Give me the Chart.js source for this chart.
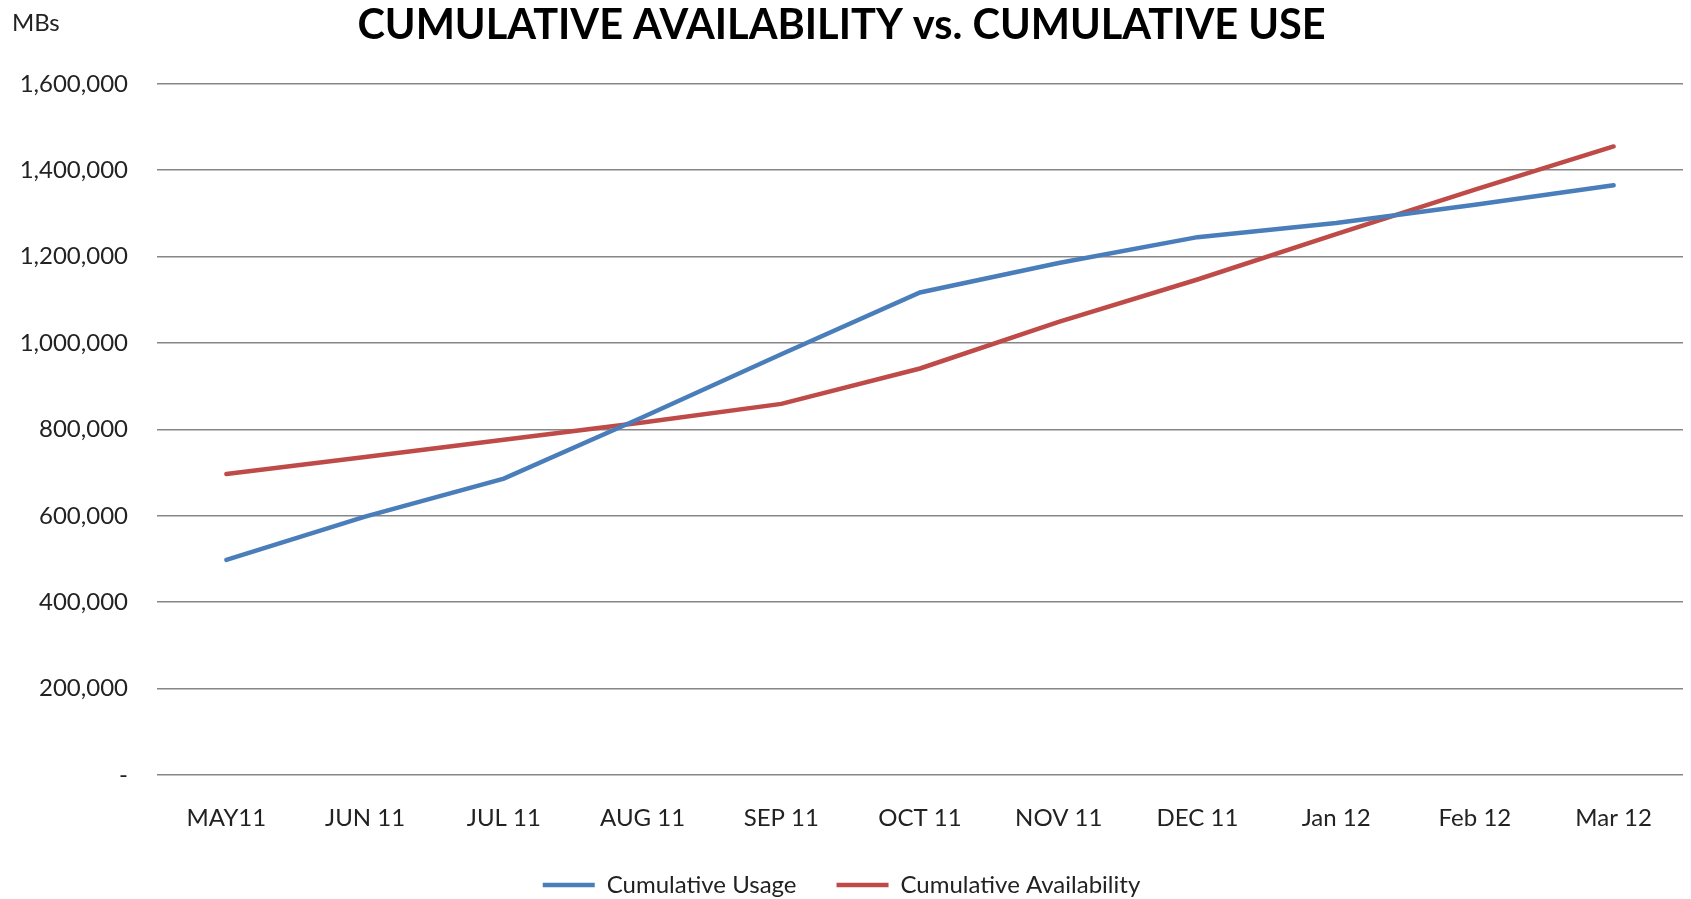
<!DOCTYPE html>
<html>
<head>
<meta charset="utf-8">
<title>Cumulative Availability vs. Cumulative Use</title>
<script src="https://cdn.jsdelivr.net/npm/chart.js@4.4.1/dist/chart.umd.min.js"></script>
<style>
    html, body { margin: 0; padding: 0; background: #fff; }
    #wrap { width: 1691px; height: 899px; position: relative; }
</style>
</head>
<body>
<div id="wrap"><canvas id="usageChart" width="1691" height="899"></canvas></div>
<script>
// Data
const months = ['MAY11', 'JUN 11', 'JUL 11', 'AUG 11', 'SEP 11', 'OCT 11', 'NOV 11', 'DEC 11', 'Jan 12', 'Feb 12', 'Mar 12'];
const cumulativeUsage = [498000, 598000, 686000, 828000, 974000, 1117000, 1185000, 1245000, 1278000, 1320000, 1365000];
const cumulativeAvailability = [697000, 736000, 776000, 816000, 859000, 941000, 1049000, 1147000, 1252000, 1355000, 1455000];
const yTicks = [0, 200000, 400000, 600000, 800000, 1000000, 1200000, 1400000, 1600000];

const FONT = 'Lato, "Open Sans", sans-serif';
const TEXT = '#222';

// "MBs" unit label in the top-left corner
const unitLabel = {
    id: 'unitLabel',
    afterDraw(chart) {
        const c = chart.ctx;
        c.save();
        c.font = '24px ' + FONT;
        c.fillStyle = TEXT;
        c.textBaseline = 'middle';
        c.textAlign = 'left';
        c.fillText('MBs', 12, 23);
        c.restore();
    }
};

const ctx = document.getElementById('usageChart').getContext('2d');
const chart = new Chart(ctx, {
    type: 'line',
    data: {
        labels: months,
        datasets: [{
            label: 'Cumulative Usage',
            data: cumulativeUsage,
            borderColor: '#4A7EBB',
            backgroundColor: '#4A7EBB',
            borderWidth: 4.5,
            borderCapStyle: 'round',
            pointRadius: 0,
            tension: 0
        }, {
            label: 'Cumulative Availability',
            data: cumulativeAvailability,
            borderColor: '#BE4B48',
            backgroundColor: '#BE4B48',
            borderWidth: 4.5,
            borderCapStyle: 'round',
            pointRadius: 0,
            tension: 0
        }]
    },
    options: {
        responsive: false,
        animation: false,
        layout: { padding: { left: 0, right: 8, top: 0, bottom: 0 } },
        plugins: {
            title: {
                display: true,
                text: 'CUMULATIVE AVAILABILITY vs. CUMULATIVE USE',
                color: '#000',
                font: { family: FONT, size: 41.5, weight: 'bold', lineHeight: 1.2 },
                padding: { top: 1, bottom: 33 }
            },
            legend: {
                position: 'bottom',
                maxHeight: 66,
                labels: {
                    color: TEXT,
                    font: { family: FONT, size: 24 },
                    usePointStyle: true,
                    pointStyle: 'line',
                    pointStyleWidth: 52,
                    padding: 40
                }
            },
            tooltip: { enabled: false }
        },
        scales: {
            x: {
                offset: true,
                grid: { display: false, drawTicks: false },
                border: { display: false },
                ticks: { color: TEXT, font: { family: FONT, size: 24 }, padding: 29, maxRotation: 0, autoSkip: false },
                afterFit(scale) { scale.height = 58; }
            },
            y: {
                min: 0,
                max: 1600000,
                afterBuildTicks(scale) { scale.ticks = yTicks.map(v => ({ value: v })); },
                grid: { color: '#868686', lineWidth: 1.5, drawTicks: false },
                border: { display: false },
                ticks: {
                    color: TEXT,
                    font: { family: FONT, size: 24 },
                    padding: 29,
                    callback: v => v === 0 ? '-' : v.toLocaleString('en-US')
                },
                afterFit(scale) { scale.width = 157; }
            }
        }
    },
    plugins: [unitLabel]
});
</script>
</body>
</html>
